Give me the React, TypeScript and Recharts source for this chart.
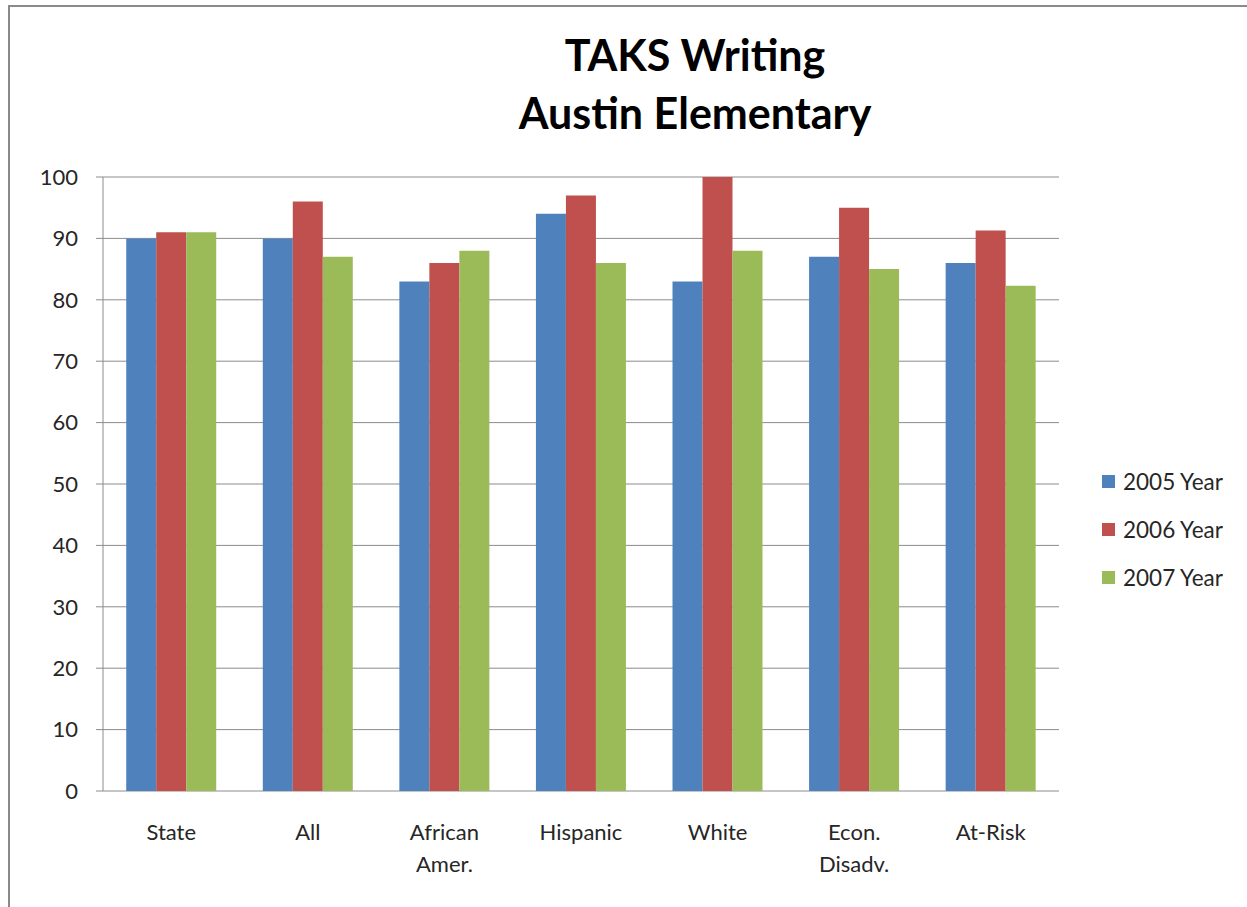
import React from 'react';
import { Bar, BarChart, CartesianGrid, Legend, XAxis, YAxis } from 'recharts';

// categories along the x axis ("\n" = line break in the tick label)
const groups = ['State', 'All', 'African\nAmer.', 'Hispanic', 'White', 'Econ.\nDisadv.', 'At-Risk'];

// values per year
const y2005 = [90, 90, 83, 94, 83, 87, 86];
const y2006 = [91, 96, 86, 97, 100, 95, 91.3];
const y2007 = [91, 87, 88, 86, 88, 85, 82.3];

const yTicks = [0, 10, 20, 30, 40, 50, 60, 70, 80, 90, 100];

const series = [
    { key: 'y2005', name: '2005 Year', color: '#4F81BD' },
    { key: 'y2006', name: '2006 Year', color: '#C0504D' },
    { key: 'y2007', name: '2007 Year', color: '#9BBB59' },
];

const data = groups.map((group, i) => ({
    group,
    y2005: y2005[i],
    y2006: y2006[i],
    y2007: y2007[i],
}));

// tick marks sit between categories, like Excel does
const boundaryTicks = [...groups.map((_, i) => i), groups.length];

const FONT = 'Lato, "Open Sans", sans-serif';
const TEXT = '#262626';
const GRID = '#8c8c8c';

const CatTick = (props: any) => {
    const { x, y, payload } = props;
    const lines = String(payload.value).split('\n');
    return (
        <text x={x} y={y} textAnchor="middle" fill={TEXT} fontSize={22} fontFamily={FONT}>
            {lines.map((line, i) => (
                <tspan key={i} x={x} dy={i === 0 ? 49 : 32}>{line}</tspan>
            ))}
        </text>
    );
};

const LegendBox = (props: any) => {
    const { payload } = props;
    return (
        <div style={{ fontFamily: FONT, fontSize: 22.5, color: TEXT }}>
            {(payload || []).map((entry: any) => (
                <div key={entry.value} style={{ display: 'flex', alignItems: 'center', height: 48 }}>
                    <span style={{ width: 13, height: 13, background: entry.color, marginRight: 8, display: 'inline-block' }} />
                    <span>{entry.value}</span>
                </div>
            ))}
        </div>
    );
};

export default function App() {
    return (
        <div style={{ position: 'absolute', left: 0, top: 0, width: 1247, height: 907, overflow: 'hidden', background: '#fff' }}>
            <div style={{ position: 'absolute', left: 8, top: 5, width: 1400, height: 1100, border: '2px solid #8a8a8a' }} />

            <div style={{ position: 'absolute', left: 0, width: 1390, top: 26, textAlign: 'center', fontFamily: FONT, fontWeight: 700, fontSize: 43, lineHeight: '58px', color: '#000' }}>
                TAKS Writing<br />Austin Elementary
            </div>

            <div style={{ position: 'absolute', left: 0, top: 0 }}>
                <BarChart
                    width={1247}
                    height={907}
                    data={data}
                    margin={{ top: 177, right: 48, bottom: 46, left: 43 }}
                    barCategoryGap="17%"
                    barGap={0}
                >
                    <CartesianGrid xAxisId="cat" vertical={false} stroke={GRID} strokeWidth={1} />
                    <XAxis
                        xAxisId="ticks"
                        type="number"
                        domain={[0, groups.length]}
                        ticks={boundaryTicks}
                        tick={false}
                        tickSize={9}
                        height={0}
                        allowDataOverflow
                        axisLine={{ stroke: GRID }}
                        tickLine={{ stroke: GRID }}
                    />
                    <XAxis
                        xAxisId="cat"
                        dataKey="group"
                        interval={0}
                        axisLine={false}
                        tickLine={false}
                        tickSize={0}
                        tickMargin={0}
                        height={70}
                        tick={<CatTick />}
                    />
                    <YAxis
                        domain={[0, 100]}
                        ticks={yTicks}
                        interval={0}
                        width={60}
                        tickSize={7}
                        tickMargin={18}
                        axisLine={{ stroke: GRID }}
                        tickLine={{ stroke: GRID }}
                        tick={{ fill: TEXT, fontSize: 22, fontFamily: FONT }}
                    />
                    <Legend
                        layout="vertical"
                        align="right"
                        verticalAlign="middle"
                        width={140}
                        content={<LegendBox />}
                        wrapperStyle={{ left: 1102, right: 'auto', top: 457 }}
                    />
                    {series.map((s) => (
                        <Bar key={s.key} xAxisId="cat" dataKey={s.key} name={s.name} fill={s.color} isAnimationActive={false} />
                    ))}
                </BarChart>
            </div>
        </div>
    );
}
